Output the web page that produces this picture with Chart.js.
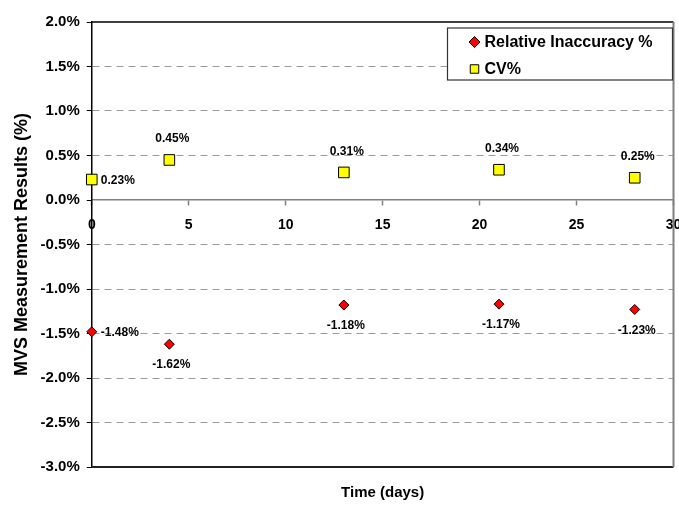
<!DOCTYPE html>
<html>
<head>
<meta charset="utf-8">
<script src="https://cdn.jsdelivr.net/npm/chart.js@4"></script>
<style>
  html, body { margin: 0; padding: 0; background: #fff; overflow: hidden; }
  #wrap { width: 682px; height: 506px; position: relative; }
</style>
</head>
<body>
<div id="wrap"><canvas id="chart"></canvas></div>
<script>
// values
var days = [0, 4, 13, 21, 28],
    inaccuracy = [-1.48, -1.62, -1.18, -1.17, -1.23],
    cv = [0.23, 0.45, 0.31, 0.34, 0.25],
    seriesNames = ['Relative Inaccuracy %', 'CV%'],
    yRange = {min: -3, max: 2, step: 0.5},
    xRange = {min: 0, max: 30, step: 5};

// where each value label sits relative to its point
var inaccuracyLabelPos = ['right', 'below', 'below', 'below', 'below'],
    cvLabelPos = ['right', 'above', 'above', 'above', 'above'];

var FONT = 'Arial, "Liberation Sans", sans-serif';
Chart.defaults.font.family = FONT;
Chart.defaults.color = '#000';

function toPoints(xs, ys) {
    return xs.map(function (x, i) { return {x: x, y: ys[i]}; });
}

var valueLabels = {
    id: 'valueLabels',
    afterDatasetsDraw: function (chart) {
        var ctx = chart.ctx;
        ctx.save();
        ctx.font = 'bold 12px ' + FONT;
        ctx.fillStyle = '#000';
        chart.data.datasets.forEach(function (ds, i) {
            chart.getDatasetMeta(i).data.forEach(function (pt, j) {
                var text = ds.data[j].y.toFixed(2) + '%',
                    pos = ds.labelPos[j];
                ctx.textBaseline = 'middle';
                if (pos === 'right') {
                    ctx.textAlign = 'left';
                    ctx.fillText(text, pt.x + 9, pt.y + 1);
                } else if (pos === 'above') {
                    ctx.textAlign = 'center';
                    ctx.fillText(text, pt.x + 3, pt.y - 21);
                } else {
                    ctx.textAlign = 'center';
                    ctx.fillText(text, pt.x + 2, pt.y + 21);
                }
            });
        });
        ctx.restore();
    }
};

var frameAndLegend = {
    id: 'frameAndLegend',
    afterDraw: function (chart) {
        var ctx = chart.ctx,
            a = chart.chartArea;
        ctx.save();
        // plot frame
        ctx.lineWidth = 1.5;
        ctx.strokeStyle = '#000';
        ctx.beginPath();
        ctx.moveTo(a.left, a.top);
        ctx.lineTo(a.right, a.top);
        ctx.stroke();
        ctx.lineWidth = 2;
        ctx.strokeStyle = '#222';
        ctx.beginPath();
        ctx.moveTo(a.left, a.bottom);
        ctx.lineTo(a.right, a.bottom);
        ctx.stroke();
        ctx.strokeStyle = '#808080';
        ctx.beginPath();
        ctx.moveTo(a.right, a.top);
        ctx.lineTo(a.right, a.bottom);
        ctx.stroke();

        // legend box
        var bx = a.right - 226, by = a.top + 6, bw = 225, bh = 52;
        ctx.fillStyle = '#fff';
        ctx.fillRect(bx, by, bw, bh);
        ctx.lineWidth = 1.2;
        ctx.strokeStyle = '#333';
        ctx.strokeRect(bx, by, bw, bh);
        ctx.font = 'bold 16px ' + FONT;
        ctx.textAlign = 'left';
        ctx.textBaseline = 'middle';
        chart.data.datasets.forEach(function (ds, i) {
            var cy = by + 14 + i * 27, cx = bx + 27;
            ctx.lineWidth = 1;
            ctx.strokeStyle = ds.pointBorderColor;
            ctx.fillStyle = ds.pointBackgroundColor;
            Chart.helpers.drawPoint(ctx, {
                pointStyle: ds.pointStyle,
                radius: ds.pointStyle === 'rect' ? 6 : 5.5,
                rotation: 0,
                borderWidth: 1
            }, cx, cy);
            ctx.fillStyle = '#000';
            ctx.fillText(ds.label, cx + 10, cy + 1);
        });
        ctx.restore();
    }
};

var chart = new Chart(document.getElementById('chart'), {
    type: 'scatter',
    data: {
        datasets: [{
            label: seriesNames[0],
            data: toPoints(days, inaccuracy),
            labelPos: inaccuracyLabelPos,
            clip: false,
            pointStyle: 'rectRot',
            pointRadius: 5,
            pointHoverRadius: 5,
            pointBackgroundColor: '#ff0000',
            pointBorderColor: '#000',
            pointBorderWidth: 1
        }, {
            label: seriesNames[1],
            data: toPoints(days, cv),
            labelPos: cvLabelPos,
            clip: false,
            pointStyle: 'rect',
            pointRadius: 7.5,
            pointHoverRadius: 7.5,
            pointBackgroundColor: '#ffff00',
            pointBorderColor: '#000',
            pointBorderWidth: 1
        }]
    },
    options: {
        responsive: true,
        maintainAspectRatio: false,
        animation: false,
        events: [],
        layout: {padding: {left: 7, top: 22, right: 0, bottom: 3}},
        plugins: {legend: {display: false}, tooltip: {enabled: false}},
        scales: {
            x: {
                type: 'linear',
                position: {y: 0},
                min: xRange.min,
                max: xRange.max,
                ticks: {
                    stepSize: xRange.step,
                    padding: 12,
                    font: {size: 14, weight: 'bold'},
                    color: '#000'
                },
                grid: {drawOnChartArea: false, drawTicks: true, tickLength: 5, tickColor: '#808080', tickWidth: 1.5},
                border: {color: '#808080', width: 1.5},
                afterFit: function (s) { s.height = 0; s.paddingLeft = 0; s.paddingRight = 0; }
            },
            xTitle: {
                type: 'linear',
                position: 'bottom',
                min: xRange.min,
                max: xRange.max,
                ticks: {display: false},
                grid: {display: false},
                border: {display: false},
                title: {
                    display: true,
                    text: 'Time (days)',
                    font: {size: 15, weight: 'bold'},
                    padding: {top: 9, bottom: 1}
                },
                afterFit: function (s) { s.paddingLeft = 0; s.paddingRight = 0; }
            },
            y: {
                min: yRange.min,
                max: yRange.max,
                ticks: {
                    stepSize: yRange.step,
                    padding: 7,
                    font: {size: 15, weight: 'bold'},
                    color: '#000',
                    callback: function (v) { return v.toFixed(1) + '%'; }
                },
                grid: {
                    color: function (c) {
                        var v = c.tick ? c.tick.value : null;
                        return (v === yRange.min || v === yRange.max || v === 0) ? 'rgba(0,0,0,0)' : '#9a9a9a';
                    },
                    lineWidth: 1,
                    tickLength: 5,
                    tickColor: '#000',
                    tickWidth: 1
                },
                border: {color: '#000', width: 1.5, dash: [7, 5]},
                title: {
                    display: true,
                    text: 'MVS Measurement Results (%)',
                    font: {size: 18, weight: 'bold'},
                    padding: {top: 4, bottom: 1}
                }
            }
        }
    },
    plugins: [valueLabels, frameAndLegend]
});
</script>
</body>
</html>
